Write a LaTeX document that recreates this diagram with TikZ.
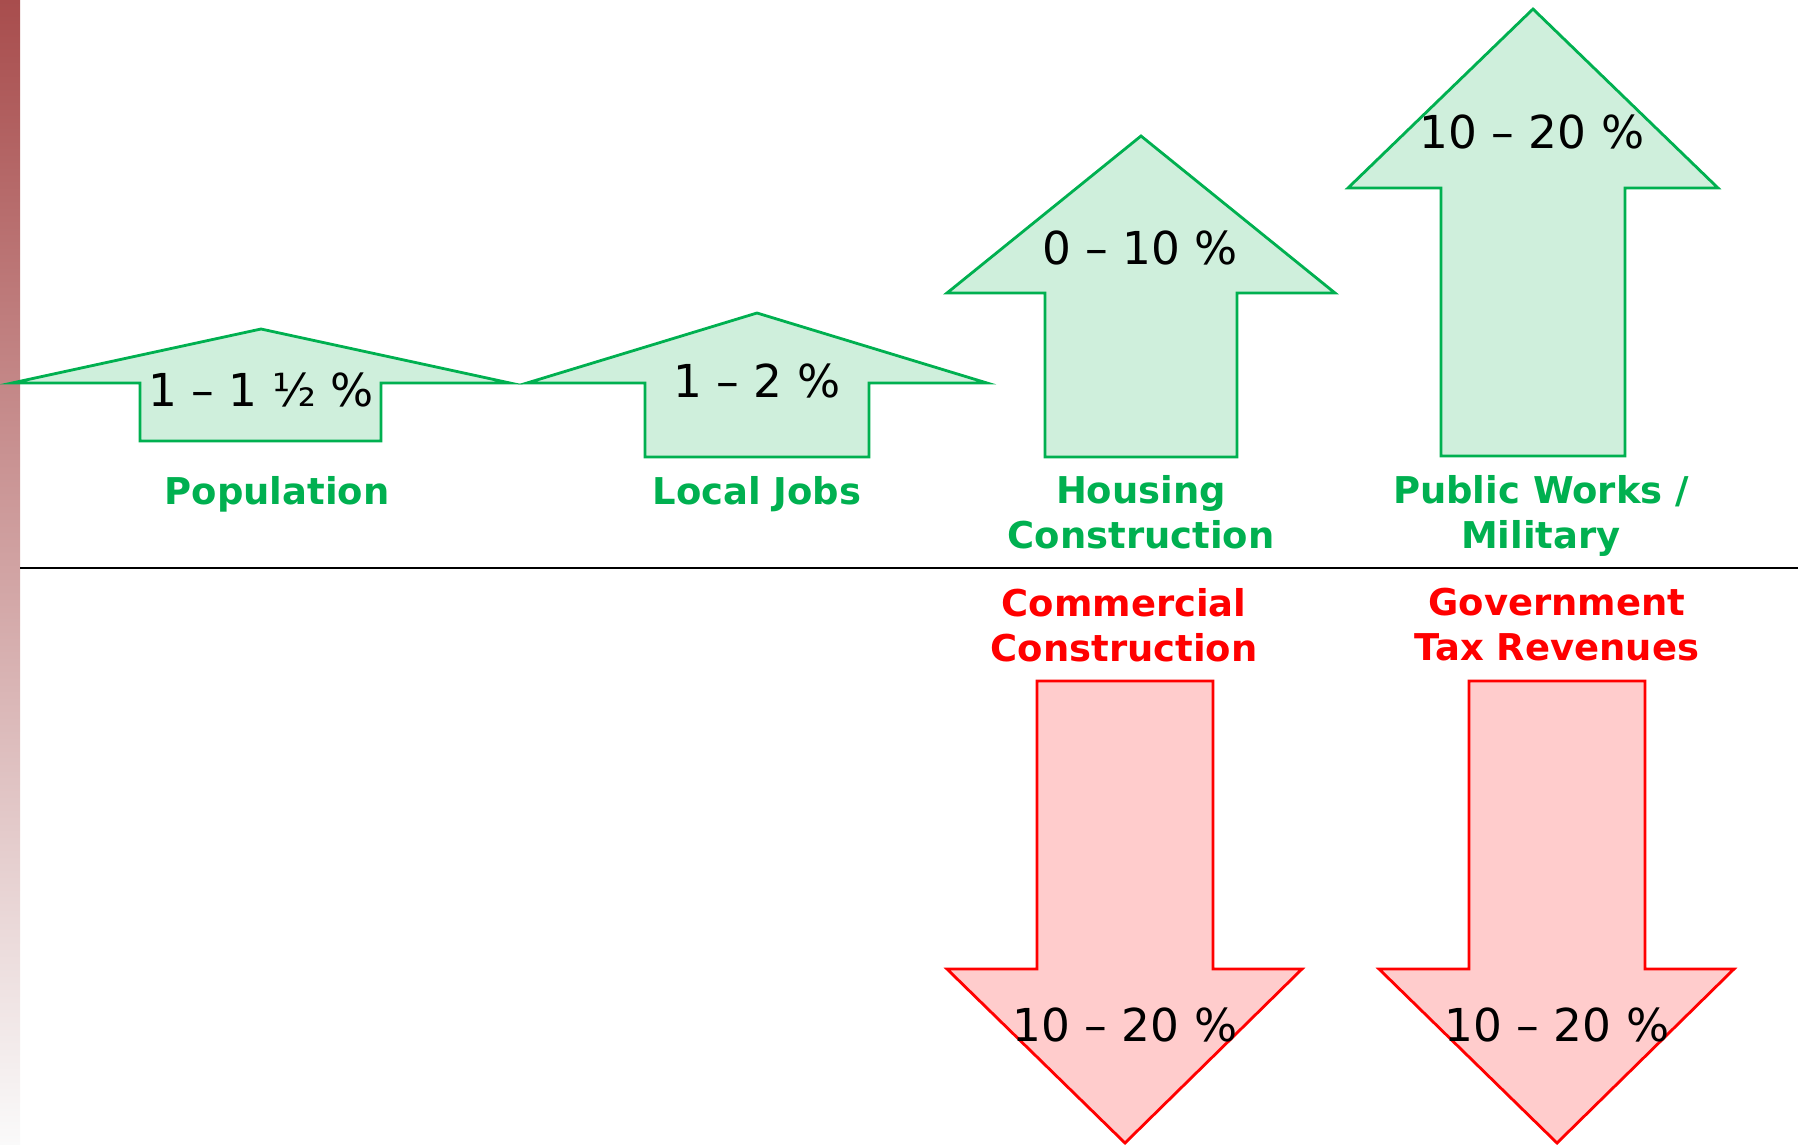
\documentclass[tikz,border=0pt]{standalone}
\usepackage{fontspec}
\setmainfont{DejaVu Sans}
\usepackage{tikz}
\usetikzlibrary{positioning}
\definecolor{riseGreen}{HTML}{00B050}
\definecolor{riseSoftGreen}{HTML}{CFEFDC}
\definecolor{fallRed}{HTML}{FF0000}
\definecolor{fallSoftRed}{HTML}{FFCCCC}
\definecolor{barTop}{HTML}{A84D4D}
\definecolor{barMid}{HTML}{D6C3C3}
\definecolor{barBottom}{HTML}{FAFAFA}
\tikzset{
  risearrow/.style={draw=riseGreen, fill=riseSoftGreen, line width=0.8pt, line join=miter},
  fallarrow/.style={draw=fallRed, fill=fallSoftRed, line width=0.8pt, line join=miter},
  pctvalue/.style={font=\fontsize{12.9}{15}\selectfont, text=black, inner sep=0pt},
  riselabel/.style={font=\fontsize{10.5}{12.8}\selectfont\bfseries, text=riseGreen, align=center, inner sep=0pt},
  falllabel/.style={font=\fontsize{10.5}{12.8}\selectfont\bfseries, text=fallRed, align=center, inner sep=0pt}
}
\begin{document}
\begin{tikzpicture}[x=0.01cm, y=-0.01cm]
    \useasboundingbox (0,0) rectangle (1802,1145);
    % side bar and divider
    \shade[top color=barTop, middle color=barMid, bottom color=barBottom] (0,0) rectangle (20,1145);
    \draw[black, line width=0.6pt] (20,568) -- (1798,568);
    % growth arrows
    \draw[risearrow] (261,329) -- (510,383) -- (381,383) -- (381,441) -- (140,441) -- (140,383) -- (12,383) -- cycle;
    \draw[risearrow] (757,313) -- (987,383) -- (869,383) -- (869,457) -- (645,457) -- (645,383) -- (527,383) -- cycle;
    \draw[risearrow] (1141,136) -- (1335,293) -- (1237,293) -- (1237,457) -- (1045,457) -- (1045,293) -- (947,293) -- cycle;
    \draw[risearrow] (1533,9) -- (1718,188) -- (1625,188) -- (1625,456) -- (1441,456) -- (1441,188) -- (1348,188) -- cycle;
    % decline arrows
    \draw[fallarrow] (1125,1143) -- (1302,969) -- (1213,969) -- (1213,681) -- (1037,681) -- (1037,969) -- (947,969) -- cycle;
    \draw[fallarrow] (1557,1143) -- (1734,969) -- (1645,969) -- (1645,681) -- (1469,681) -- (1469,969) -- (1379,969) -- cycle;
    % values
    \node[pctvalue] (popvalue) at (261,390) {1 – 1 ½ \%};
    \node[pctvalue] (jobsvalue) at (757,381) {1 – 2 \%};
    \node[pctvalue] (housingvalue) at (1140,248) {0 – 10 \%};
    \node[pctvalue] (worksvalue) at (1532,132) {10 – 20 \%};
    \node[pctvalue] (commercialvalue) at (1125,1025) {10 – 20 \%};
    \node[pctvalue] (taxvalue) at (1557,1025) {10 – 20 \%};
    % labels
    \node[riselabel] (poplabel) at (277,494) {Population};
    \node[riselabel] (jobslabel) at (757,494) {Local Jobs};
    \node[riselabel] (housinglabel) at (1141,512) {Housing\\Construction};
    \node[riselabel] (workslabel) at (1541,516) {Public Works /\\Military};
    \node[falllabel] (commerciallabel) at (1124,625) {Commercial\\Construction};
    \node[falllabel] (taxlabel) at (1557,625) {Government\\Tax Revenues};
\end{tikzpicture}
\end{document}
